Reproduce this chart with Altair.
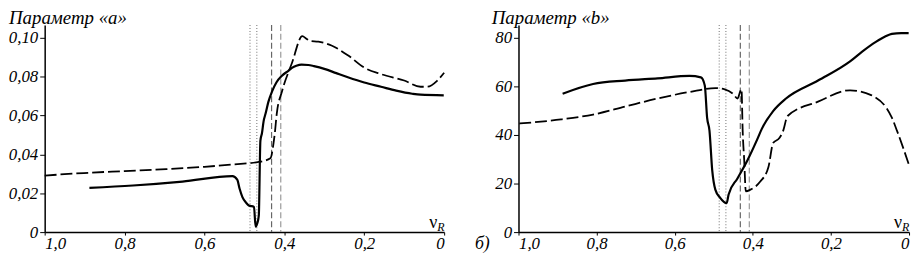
import altair as alt
import pandas as pd

FONT = "Liberation Serif"

# ---- Panel "a" ----
a_solid_x = [0.888, 0.779, 0.655, 0.53, 0.518, 0.512, 0.505, 0.496, 0.489, 0.476, 0.472, 0.468, 0.464,
             0.46, 0.456, 0.452, 0.447, 0.44, 0.431, 0.42, 0.406, 0.39, 0.381, 0.37, 0.357, 0.34,
             0.326, 0.3, 0.27, 0.241, 0.2, 0.158, 0.12, 0.08, 0.059, 0.001]
a_solid_y = [0.0228, 0.024, 0.026, 0.0288, 0.027, 0.0223, 0.018, 0.0152, 0.0137, 0.013, 0.0028, 0.0044, 0.0085,
             0.047, 0.051, 0.057, 0.061, 0.067, 0.0723, 0.077, 0.0805, 0.083, 0.0845, 0.0856, 0.0862, 0.086,
             0.0854, 0.084, 0.0818, 0.0797, 0.077, 0.0748, 0.0728, 0.0712, 0.0707, 0.0704]
a_dash_x = [1.0, 0.902, 0.8, 0.696, 0.6, 0.53, 0.464, 0.435, 0.427, 0.424, 0.419, 0.406, 0.381, 0.355,
            0.345, 0.336, 0.315, 0.282, 0.241, 0.199, 0.158, 0.1, 0.059, 0.042, 0.017, 0.0]
a_dash_y = [0.0291, 0.0304, 0.0314, 0.0324, 0.0336, 0.0348, 0.0361, 0.038, 0.0459, 0.0507, 0.061, 0.0723,
            0.087, 0.1008, 0.0995, 0.0984, 0.098, 0.096, 0.091, 0.0845, 0.0813, 0.078, 0.0748, 0.0748,
            0.078, 0.082]

# ---- Panel "b" ----
b_solid_x = [0.887, 0.809, 0.727, 0.644, 0.562, 0.533, 0.523, 0.517, 0.511, 0.504, 0.496, 0.484, 0.467,
             0.462, 0.439, 0.414, 0.389, 0.377, 0.348, 0.315, 0.233, 0.151, 0.12, 0.085, 0.06, 0.044,
             0.02, 0.001]
b_solid_y = [57.0, 61.0, 62.4, 63.3, 64.3, 63.7, 60.4, 47.0, 41.8, 25.5, 17.5, 14.2, 11.9,
             15.5, 22.2, 29.5, 38.1, 42.5, 49.8, 55.0, 62.4, 70.3, 74.3, 78.3, 80.6, 81.6,
             81.9, 81.9]
b_dash_x = [0.998, 0.891, 0.809, 0.727, 0.644, 0.562, 0.496, 0.472, 0.451, 0.439, 0.432, 0.429, 0.426,
            0.422, 0.418, 0.406, 0.381, 0.36, 0.348, 0.332, 0.323, 0.311, 0.233, 0.151, 0.097, 0.044,
            0.031, 0.001]
b_dash_y = [44.7, 46.4, 48.4, 51.7, 55.0, 57.7, 59.3, 58.8, 57.0, 55.0, 58.0, 58.8, 41.8,
            29.5, 16.8, 17.5, 20.8, 26.8, 36.7, 38.7, 41.4, 47.8, 53.7, 58.4, 56.4, 47.1,
            41.8, 28.1]

dotted_lines = [0.486, 0.469]
dashed_lines = [0.432, 0.409]
x_ticks = [1.0, 0.8, 0.6, 0.4, 0.2, 0.0]
a_ticks = [0, 0.02, 0.04, 0.06, 0.08, 0.10]
b_ticks = [0, 20, 40, 60, 80]


def df(xs, ys):
    return pd.DataFrame({"x": xs, "y": ys, "i": list(range(len(xs)))})


def axis_common(**kw):
    return alt.Axis(title=None, grid=False, labelFont=FONT,
                    labelFontStyle="italic", labelFontSize=17, labelColor="black",
                    domainColor="black", domainWidth=1.5, tickColor="black", tickWidth=1, **kw)


def panel(sx, sy, dx, dy, ydom, yticks, ylabexpr, title, title_x, w, h, extra=None):
    xscale = alt.Scale(domain=[1, 0], nice=False, zero=False)
    yscale = alt.Scale(domain=ydom, nice=False)
    xaxis = axis_common(values=x_ticks, labelFlush=True, tickSize=3, labelPadding=1,
                        labelExpr="datum.value == 0 ? '0' : replace(format(datum.value, '.1f'), '.', ',')")
    yaxis = axis_common(values=yticks, labelExpr=ylabexpr, tickSize=5, labelPadding=2)
    X = alt.X("x:Q", scale=xscale, axis=xaxis)
    Y = alt.Y("y:Q", scale=yscale, axis=yaxis)

    dotted = alt.Chart(pd.DataFrame({"x": dotted_lines})).mark_rule(
        color="#8a8a8a", strokeWidth=1.2, strokeDash=[1, 2]).encode(x=X)
    dashed1 = alt.Chart(pd.DataFrame({"x": dashed_lines[:1]})).mark_rule(
        color="#666666", strokeWidth=1.2, strokeDash=[6, 3]).encode(x=X)
    dashed2 = alt.Chart(pd.DataFrame({"x": dashed_lines[1:]})).mark_rule(
        color="#9a9a9a", strokeWidth=1.2, strokeDash=[6, 3]).encode(x=X)
    solid = alt.Chart(df(sx, sy)).mark_line(color="black", strokeWidth=2.2, interpolate="monotone").encode(
        x=X, y=Y, order="i:Q")
    dash = alt.Chart(df(dx, dy)).mark_line(color="black", strokeWidth=1.8, strokeDash=[12, 4],
                                           interpolate="monotone").encode(x=X, y=Y, order="i:Q")
    ttl = alt.Chart(pd.DataFrame({"t": [title]})).mark_text(
        font=FONT, fontStyle="italic", fontSize=19, align="left", baseline="alphabetic", color="black"
    ).encode(text="t:N", x=alt.value(title_x), y=alt.value(-1))
    nu = alt.Chart(pd.DataFrame({"t": ["ν"]})).mark_text(
        font=FONT, fontSize=18, align="right", baseline="alphabetic", color="black"
    ).encode(text="t:N", x=alt.value(w - 7), y=alt.value(h - 4))
    rr = alt.Chart(pd.DataFrame({"t": ["R"]})).mark_text(
        font=FONT, fontStyle="italic", fontSize=12, align="left", baseline="alphabetic", color="black"
    ).encode(text="t:N", x=alt.value(w - 7), y=alt.value(h - 1))
    layers = [dotted, dashed1, dashed2, solid, dash, ttl, nu, rr]
    if extra is not None:
        ex = alt.Chart(pd.DataFrame({"t": [extra]})).mark_text(
            font=FONT, fontStyle="italic", fontSize=18, align="left", baseline="alphabetic", color="black"
        ).encode(text="t:N", x=alt.value(-44), y=alt.value(h + 17))
        layers.append(ex)
    return alt.layer(*layers).properties(width=w, height=h)


H = 209
left = panel(a_solid_x, a_solid_y, a_dash_x, a_dash_y, [0, 0.1066], a_ticks,
             "datum.value == 0 ? '0' : replace(format(datum.value, '.2f'), '.', ',')",
             "Параметр «a»", -36, 403, H)
right = panel(b_solid_x, b_solid_y, b_dash_x, b_dash_y, [0, 85.3], b_ticks,
              "format(datum.value, 'd')",
              "Параметр «b»", -27, 394, H, extra="б)")

chart = alt.hconcat(left, right, spacing=27).properties(padding=0).configure_view(stroke=None)

chart.save("out.html", embed_options={"renderer": "svg", "actions": False})
